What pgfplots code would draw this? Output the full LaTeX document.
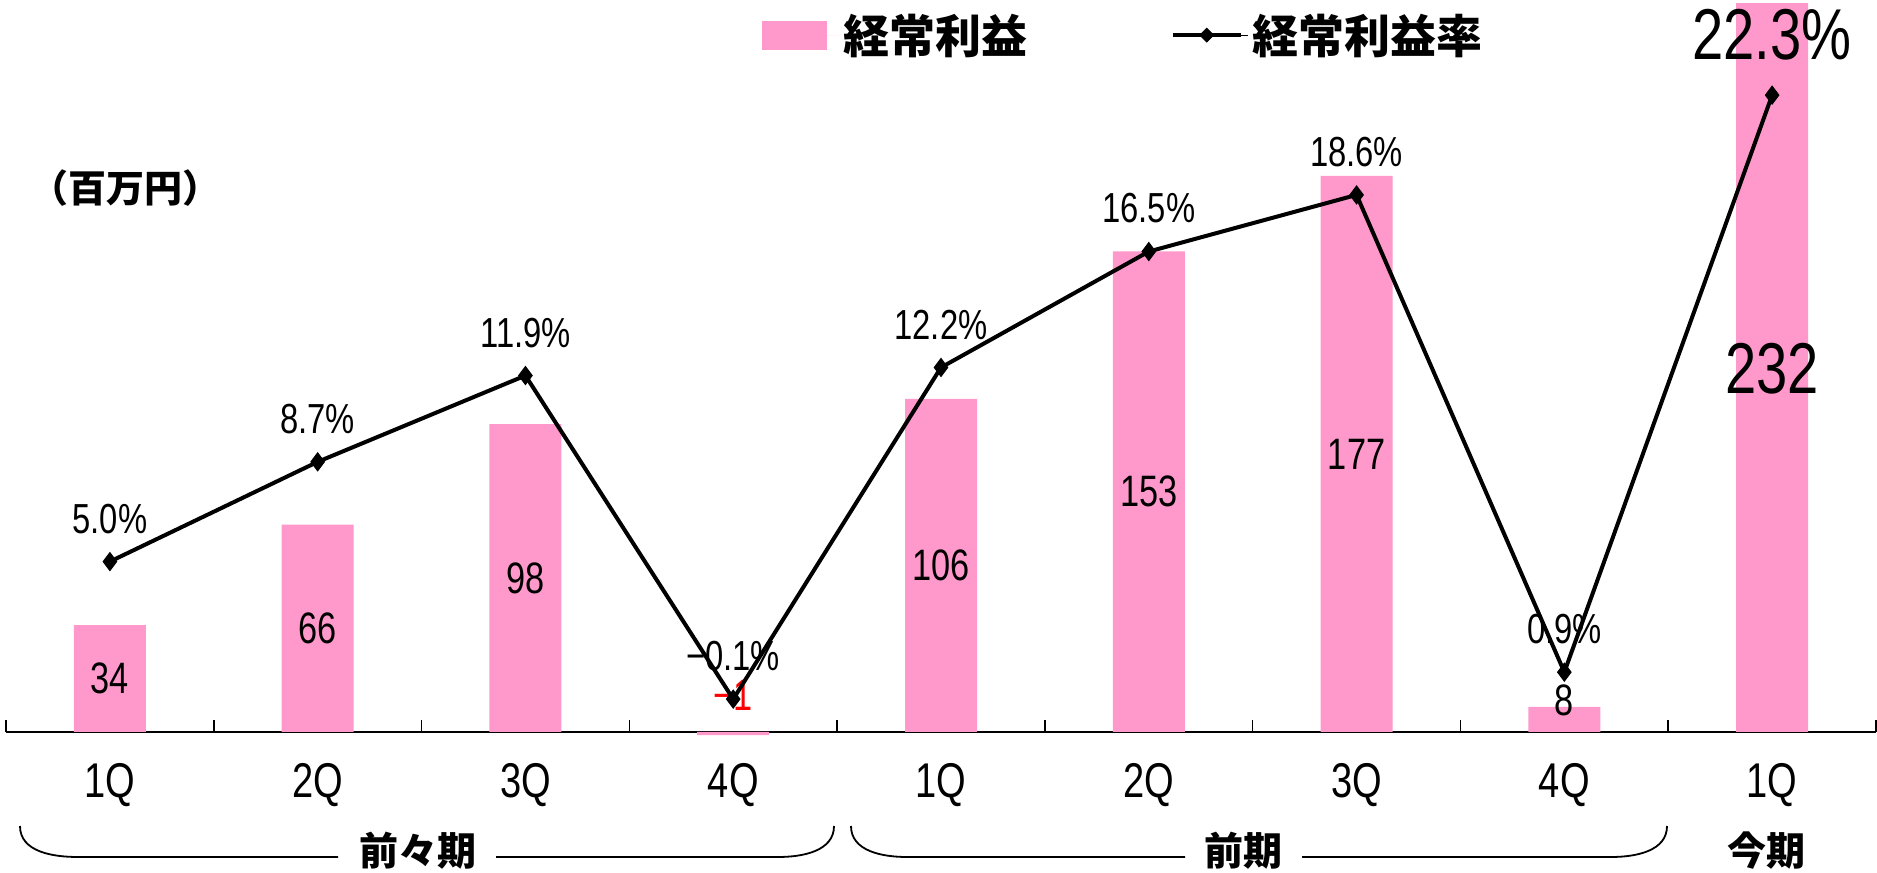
\documentclass[border=0pt]{standalone}
\usepackage{pgfplots}
\pgfplotsset{compat=1.18}
\usepackage{fontspec}
\setmainfont{Liberation Sans}
\newfontfamily\num{Liberation Sans}[FakeStretch=0.78]
\newfontfamily\jp{Noto Sans CJK JP}
\definecolor{barpink}{HTML}{FF99CC}
\definecolor{labred}{HTML}{FF0000}

\begin{document}
\begin{tikzpicture}
\useasboundingbox (0,0) rectangle (938.5pt,436pt);
% ---------- bars (left axis) ----------
\begin{axis}[
  at={(3pt,70pt)}, anchor=south west,
  scale only axis, width=935pt, height=366pt,
  xmin=-0.5, xmax=8.5, ymin=0, ymax=233,
  clip=false,
  axis x line=bottom, axis y line=none,
  x axis line style={-, line width=1.4pt, black},
  xtick={0,1,2,3,4,5,6,7,8},
  xticklabels={1Q,2Q,3Q,4Q,1Q,2Q,3Q,4Q,1Q},
  major tick length=0pt,
  minor xtick={-0.5,0.5,1.5,2.5,3.5,4.5,5.5,6.5,7.5,8.5},
  minor tick length=6pt,
  tick align=inside,
  minor tick style={line width=0.75pt, black},
  xticklabel style={font=\num\fontsize{24.4pt}{28pt}\selectfont, anchor=center, yshift=-26.5pt},
  ytick=\empty,
  legend style={at={(0.4043,0.952)}, anchor=west, draw=none, fill=none,
    inner sep=0pt, outer sep=0pt,
    font=\jp\bfseries\fontsize{23pt}{27pt}\selectfont,
    /tikz/every even column/.append style={column sep=70pt}},
  legend columns=2,
]
\addplot[ybar, bar width=36pt, fill=barpink, draw=none,
  legend image code/.code={\fill[barpink] (0pt,-7.25pt) rectangle (32.5pt,7.25pt);
    \path (0pt,0pt) -- (38.5pt,0pt);}]
  coordinates {(0,34) (1,66) (2,98) (3,-1) (4,106) (5,153) (6,177) (7,8) (8,232)};
\addlegendentry{経常利益}
\addlegendimage{legend image code/.code={
  \draw[line width=1.7pt, black] (0pt,0pt) -- (34pt,0pt);
  \fill[black] (17pt,3.5pt) -- (20.5pt,0pt) -- (17pt,-3.5pt) -- (13.5pt,0pt) -- cycle;
  \path (0pt,0pt) -- (37.5pt,0pt);}}
\addlegendentry{経常利益率}
% bar value labels
\addplot[draw=none, mark=none, nodes near coords, point meta=explicit symbolic,
  nodes near coords align={center},
  every node near coord/.append style={anchor=center, font=\num\fontsize{22pt}{26pt}\selectfont, text=black}]
  coordinates {(0,17)[34] (1,33)[66] (2,49)[98] (4,53)[106] (5,76.5)[153] (6,88.5)[177] (7,10.2)[8]};
\addplot[draw=none, mark=none, nodes near coords, point meta=explicit symbolic,
  nodes near coords align={center},
  every node near coord/.append style={anchor=center, font=\num\fontsize{22pt}{26pt}\selectfont, text=labred}]
  coordinates {(3,11.8)[−1]};
\addplot[draw=none, mark=none, nodes near coords, point meta=explicit symbolic,
  nodes near coords align={center},
  every node near coord/.append style={anchor=center, font=\num\fontsize{36pt}{40pt}\selectfont, text=black}]
  coordinates {(8,115.5)[232]};
\end{axis}
% ---------- ratio line (right axis) ----------
\begin{axis}[
  at={(3pt,70pt)}, anchor=south west,
  scale only axis, width=935pt, height=366pt,
  xmin=-0.5, xmax=8.5, ymin=-1.32, ymax=25.83,
  clip=false, axis lines=none, xtick=\empty, ytick=\empty,
]
\addplot[draw=none, mark=none, nodes near coords, point meta=explicit symbolic,
  nodes near coords align={center},
  every node near coord/.append style={anchor=center, yshift=21.5pt, font=\num\fontsize{21pt}{25pt}\selectfont, text=black}]
  coordinates {(0,5.0)[5.0\%] (1,8.7)[8.7\%] (2,11.9)[11.9\%] (3,-0.1)[−0.1\%] (4,12.2)[12.2\%] (5,16.5)[16.5\%] (6,18.6)[18.6\%] (7,0.9)[0.9\%]};
\addplot[draw=none, mark=none, nodes near coords, point meta=explicit symbolic,
  nodes near coords align={center},
  every node near coord/.append style={anchor=center, yshift=30pt, font=\num\fontsize{36pt}{40pt}\selectfont, text=black}]
  coordinates {(8,22.3)[22.3\%]};
\addplot[black, line width=2pt, mark=diamond*, mark size=4.5pt, mark options={fill=black, line width=0.5pt}]
  coordinates {(0,5.0) (1,8.7) (2,11.9) (3,-0.1) (4,12.2) (5,16.5) (6,18.6) (7,0.9) (8,22.3)};
\end{axis}
% ---------- annotations ----------
\node[font=\jp\bfseries\fontsize{19pt}{22pt}\selectfont] at (62.75pt,342pt) {（百万円）};
\begin{scope}[line width=0.9pt]
\draw (10pt,23pt) to[out=-90,in=180] (39pt,7.5pt) -- (169pt,7.5pt);
\draw (248pt,7.5pt) -- (389pt,7.5pt) to[out=0,in=-90] (417pt,23pt);
\draw (425.5pt,23pt) to[out=-90,in=180] (453.5pt,7.5pt) -- (592.5pt,7.5pt);
\draw (651pt,7.5pt) -- (805.5pt,7.5pt) to[out=0,in=-90] (833.5pt,23pt);
\end{scope}
\node[font=\jp\bfseries\fontsize{19.5pt}{22pt}\selectfont] at (209pt,10.5pt) {前々期};
\node[font=\jp\bfseries\fontsize{19.5pt}{22pt}\selectfont] at (621.5pt,10.5pt) {前期};
\node[font=\jp\bfseries\fontsize{19.5pt}{22pt}\selectfont] at (883pt,10.5pt) {今期};
\end{tikzpicture}
\end{document}
